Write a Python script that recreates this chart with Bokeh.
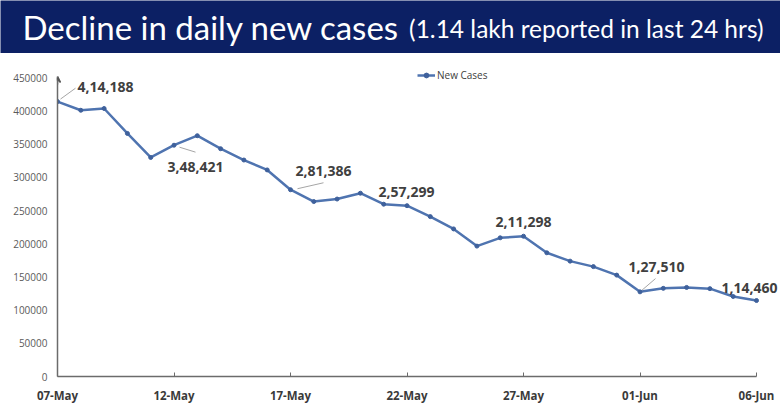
from bokeh.plotting import figure
from bokeh.layouts import column, row
from bokeh.models import (ColumnDataSource, FixedTicker, Label, Legend, LegendItem,
                          Arrow, VeeHead, Range1d)
from bokeh.embed import file_html
from bokeh.resources import INLINE

# ---------------- data ----------------
dates = ["07-May", "08-May", "09-May", "10-May", "11-May", "12-May", "13-May", "14-May",
         "15-May", "16-May", "17-May", "18-May", "19-May", "20-May", "21-May", "22-May",
         "23-May", "24-May", "25-May", "26-May", "27-May", "28-May", "29-May", "30-May",
         "31-May", "01-Jun", "02-Jun", "03-Jun", "04-Jun", "05-Jun", "06-Jun"]
new_cases = [414188, 401078, 403738, 366161, 329942, 348421, 362727, 343144,
             326098, 311170, 281386, 263533, 267334, 276110, 259551, 257299,
             240842, 222315, 196427, 208921, 211298, 186364, 173790, 165553,
             152734, 127510, 132788, 134154, 132364, 120529, 114460]
tick_dates = ["07-May", "12-May", "17-May", "22-May", "27-May", "01-Jun", "06-Jun"]
y_ticks = [0, 50000, 100000, 150000, 200000, 250000, 300000, 350000, 400000, 450000]
annotated_dates = ["07-May", "12-May", "17-May", "22-May", "27-May", "01-Jun", "06-Jun"]
series_name = "New Cases"
title_main = "Decline in daily new cases"
title_sub = "(1.14 lakh reported in last 24 hrs)"

W = 780
BANNER_H = 53
MAIN_H = 405 - BANNER_H
FRAME_L, FRAME_R = 57, 0
FRAME_B = 26
FRAME_H = 315
FRAME_T = MAIN_H - FRAME_B - FRAME_H
FRAME_W = W - FRAME_L - FRAME_R
AXIS_PX = 699            # pixel length of the drawn x axis (07-May .. 06-Jun)
Y_MAX = 450000
Y_TOP = 470000

n = len(dates)
X_END = (n - 1) * FRAME_W / AXIS_PX


def indian_format(v):
    s = str(int(v))
    last3, rest = s[-3:], s[:-3]
    groups = []
    while len(rest) > 2:
        groups.insert(0, rest[-2:])
        rest = rest[:-2]
    if rest:
        groups.insert(0, rest)
    return ",".join(groups + [last3])


NAVY = "#0c2064"

# ---------------- banner ----------------
banner = figure(width=W, height=BANNER_H,
                x_range=Range1d(0, W), y_range=Range1d(0, BANNER_H),
                toolbar_location=None, output_backend="svg", min_border=0,
                background_fill_color=NAVY, border_fill_color=NAVY,
                outline_line_color=None)
banner.axis.visible = False
banner.grid.visible = False
banner.add_layout(Label(x=22, y=27, text=title_main, text_color="white",
                        text_font="Lato", text_font_size="33px",
                        text_baseline="middle", text_align="left"))
banner.add_layout(Label(x=763, y=25, text=title_sub, text_color="white",
                        text_font="Lato", text_font_size="24.5px",
                        text_baseline="middle", text_align="right"))

# ---------------- main chart ----------------
xs = list(range(n))
src = ColumnDataSource(dict(x=xs, y=new_cases, d=dates))

p = figure(width=W, height=MAIN_H, x_range=Range1d(0, X_END), y_range=Range1d(0, Y_TOP),
           toolbar_location=None, output_backend="svg",
           min_border_left=FRAME_L, min_border_right=FRAME_R,
           min_border_top=FRAME_T, min_border_bottom=FRAME_B,
           outline_line_color=None, background_fill_color="white", border_fill_color="white")
p.grid.visible = False

ln = p.line("x", "y", source=src, line_color="#4f74b0", line_width=2.5)
pts = p.scatter("x", "y", source=src, size=4, fill_color="#3f619c", line_color="#3f619c")

# axes
xa = p.xaxis[0]
xa.bounds = (0, n - 1)
xa.ticker = FixedTicker(ticks=[dates.index(d) for d in tick_dates])
xa.major_label_overrides = {dates.index(d): d for d in tick_dates}
xa.major_label_text_font = "Open Sans"
xa.major_label_text_font_style = "bold"
xa.major_label_text_font_size = "11.5px"
xa.major_label_text_color = "#3a3a3a"
xa.major_label_standoff = 11
xa.major_tick_in = 4
xa.major_tick_out = 0
xa.minor_tick_line_color = None
xa.axis_line_color = "#6b6b6b"
xa.axis_line_width = 1.5
xa.major_tick_line_color = "#6b6b6b"

ya = p.yaxis[0]
ya.bounds = (0, Y_MAX)
ya.ticker = FixedTicker(ticks=y_ticks)
ya.major_label_overrides = {t: str(t) for t in y_ticks}
ya.major_label_text_font = "Open Sans"
ya.major_label_text_font_size = "10px"
ya.major_label_text_color = "#5a5a5a"
ya.major_label_standoff = 10
ya.major_tick_in = 0
ya.major_tick_out = 0
ya.minor_tick_in = 0
ya.minor_tick_out = 0
ya.major_tick_line_color = None
ya.minor_tick_line_color = None
ya.axis_line_color = "#6b6b6b"
ya.axis_line_width = 1.5

p.add_layout(Arrow(end=VeeHead(size=6, line_color="#555555", line_width=1.5),
                   x_start=0, y_start=440000, x_end=0, y_end=452000,
                   line_color="#6b6b6b", line_width=1.5))

# legend
legend = Legend(items=[LegendItem(label=series_name, renderers=[ln, pts])],
                location=(360, 294), orientation="horizontal",
                label_text_font="Open Sans", label_text_font_size="10px",
                label_text_color="#404040", glyph_width=18, glyph_height=12,
                label_height=12, label_standoff=2, padding=0, margin=0, spacing=0,
                border_line_alpha=0, background_fill_alpha=0)
p.add_layout(legend)

# annotations
px_per_x = FRAME_W / X_END
px_per_y = FRAME_H / float(Y_TOP)
label_offsets = {
    "07-May": (20, 14.5),
    "12-May": (-6.5, -21.5),
    "17-May": (5, 18.5),
    "22-May": (-28.5, 13.6),
    "27-May": (-28, 14),
    "01-Jun": (-11.5, 25),
    "06-Jun": (-35, 13),
}
leaders = {
    "07-May": (3, 2.5, 18, 13.5),
    "12-May": (5.5, -2, 21.5, -7),
    "17-May": (7, 1, 33, 7),
    "01-Jun": (2, 1.7, 15.5, 13.4),
}
for d in annotated_dates:
    i = dates.index(d)
    v = new_cases[i]
    xo, yo = label_offsets[d]
    p.add_layout(Label(x=i, y=v, x_offset=xo, y_offset=yo, text=indian_format(v),
                       text_font="Open Sans", text_font_style="bold", text_font_size="14px",
                       text_color="#404040", text_baseline="middle", text_align="left"))
    if d in leaders:
        a, b, c, e = leaders[d]
        p.segment(x0=[i + a / px_per_x], y0=[v + b / px_per_y],
                  x1=[i + c / px_per_x], y1=[v + e / px_per_y],
                  line_color="#a6a6a6", line_width=1)

layout = column(row(banner), row(p), spacing=0)
open("out.html", "w").write(file_html(layout, INLINE))
